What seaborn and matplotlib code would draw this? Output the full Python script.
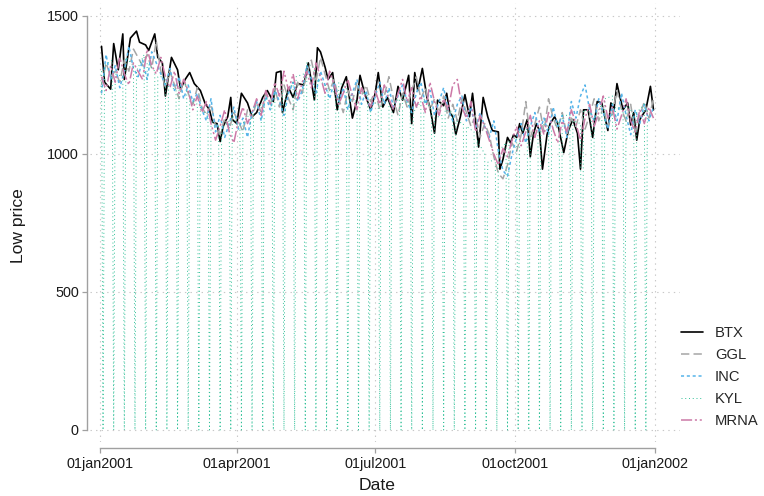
import numpy as np
import pandas as pd
import seaborn as sns
import matplotlib.pyplot as plt
import matplotlib.dates as mdates
from matplotlib.ticker import FixedLocator, FixedFormatter

# ── Data ──────────────────────────────────────────────────────
start = pd.Timestamp("2001-01-01")

# BTX: day offsets from 01jan2001 and low prices
btx_day = [1, 3, 7, 9, 12, 15, 16, 20, 24, 26,
           30, 32, 36, 38, 41, 43, 45, 47, 51, 53,
           56, 59, 62, 66, 69, 72, 74, 77, 79, 81,
           84, 86, 87, 90, 93, 97, 100, 103, 107, 110,
           114, 116, 119, 120, 124, 127, 130, 134, 137, 141,
           143, 145, 148, 150, 153, 156, 159, 162, 166, 169,
           171, 174, 178, 181, 183, 186, 189, 193, 196, 199,
           203, 205, 207, 209, 212, 215, 217, 220, 222, 226,
           228, 230, 232, 234, 237, 240, 243, 245, 249, 252,
           255, 258, 262, 263, 265, 268, 270, 272, 274, 276,
           278, 281, 283, 285, 287, 289, 291, 294, 296, 299,
           301, 305, 308, 311, 314, 316, 318, 321, 324, 327,
           330, 334, 336, 338, 340, 342, 344, 347, 349, 351,
           353, 355, 359, 362, 364]
btx = [1390, 1260, 1235, 1400, 1305, 1435, 1270, 1420, 1445, 1405,
       1395, 1375, 1435, 1350, 1330, 1210, 1280, 1350, 1305, 1235,
       1270, 1295, 1255, 1230, 1185, 1160, 1115, 1110, 1045, 1100,
       1135, 1205, 1125, 1110, 1220, 1185, 1135, 1150, 1205, 1230,
       1190, 1295, 1300, 1150, 1240, 1205, 1255, 1250, 1330, 1195,
       1385, 1370, 1315, 1270, 1295, 1160, 1240, 1280, 1130, 1195,
       1285, 1220, 1160, 1220, 1295, 1170, 1205, 1150, 1245, 1195,
       1285, 1110, 1295, 1230, 1310, 1205, 1170, 1075, 1195, 1175,
       1220, 1150, 1135, 1070, 1135, 1215, 1135, 1220, 1025, 1205,
       1135, 1085, 1080, 945, 980, 1060, 1040, 1070, 1060, 1110,
       1075, 1125, 990, 1070, 1110, 1085, 945, 1070, 1110, 1135,
       1110, 1005, 1085, 1125, 1075, 945, 1160, 1160, 1060, 1190,
       1185, 1085, 1185, 1160, 1255, 1205, 1160, 1185, 1105, 1150,
       1050, 1125, 1160, 1245, 1160]

# GGL / INC / MRNA: every third day from 02jan2001
ggl = [1250, 1330, 1280, 1300, 1260, 1340, 1300, 1380, 1350, 1320,
       1360, 1310, 1410, 1300, 1240, 1300, 1250, 1200, 1270, 1220,
       1180, 1240, 1170, 1140, 1180, 1100, 1070, 1130, 1090, 1150,
       1120, 1080, 1160, 1130, 1190, 1150, 1220, 1180, 1240, 1170,
       1250, 1200, 1160, 1260, 1220, 1290, 1340, 1260, 1350, 1290,
       1230, 1270, 1200, 1150, 1230, 1190, 1260, 1210, 1250, 1190,
       1230, 1160, 1210, 1280, 1200, 1140, 1220, 1170, 1230, 1280,
       1200, 1240, 1160, 1200, 1150, 1210, 1130, 1180, 1120, 1200,
       1150, 1100, 1140, 1060, 1110, 1070, 990, 930, 910, 960,
       1040, 1010, 1070, 1190, 1060, 1110, 1170, 1080, 1200, 1130,
       1090, 1150, 1070, 1130, 1100, 1160, 1090, 1140, 1200, 1120,
       1170, 1100, 1150, 1230, 1160, 1120, 1180, 1080, 1140, 1190,
       1130, 1200]
inc = [1220, 1360, 1270, 1320, 1240, 1300, 1390, 1310, 1280, 1340,
       1270, 1370, 1330, 1290, 1250, 1310, 1230, 1280, 1200, 1250,
       1190, 1220, 1160, 1120, 1200, 1080, 1140, 1060, 1110, 1170,
       1090, 1130, 1060, 1150, 1190, 1120, 1210, 1160, 1230, 1190,
       1140, 1220, 1260, 1190, 1230, 1320, 1270, 1220, 1300, 1250,
       1200, 1260, 1190, 1240, 1160, 1220, 1270, 1180, 1230, 1150,
       1210, 1260, 1180, 1240, 1170, 1210, 1250, 1190, 1150, 1220,
       1260, 1180, 1230, 1140, 1190, 1240, 1160, 1120, 1180, 1210,
       1120, 1170, 1090, 1150, 1100, 1060, 1120, 1010, 940, 920,
       1000, 1060, 1110, 1040, 1100, 1150, 1080, 1130, 1070, 1170,
       1100, 1140, 1060, 1190, 1130, 1210, 1250, 1160, 1120, 1200,
       1150, 1090, 1180, 1120, 1220, 1140, 1070, 1160, 1110, 1180,
       1120, 1170]
mrna = [1280, 1230, 1320, 1260, 1350, 1290, 1250, 1330, 1300, 1270,
        1380, 1320, 1290, 1350, 1280, 1240, 1300, 1220, 1270, 1230,
        1160, 1210, 1150, 1190, 1110, 1050, 1100, 1160, 1080, 1040,
        1120, 1170, 1110, 1150, 1200, 1140, 1230, 1180, 1260, 1210,
        1300, 1230, 1290, 1200, 1260, 1300, 1240, 1330, 1280, 1220,
        1300, 1250, 1180, 1220, 1270, 1210, 1160, 1240, 1200, 1170,
        1230, 1180, 1250, 1200, 1160, 1220, 1270, 1190, 1240, 1170,
        1210, 1150, 1260, 1190, 1140, 1200, 1160, 1250, 1270, 1170,
        1130, 1190, 1080, 1140, 1100, 1050, 1000, 960, 1020, 990,
        1050, 1100, 1030, 1080, 1140, 1060, 1120, 1070, 1150, 1090,
        1040, 1120, 1080, 1160, 1110, 1050, 1130, 1180, 1100, 1150,
        1210, 1130, 1170, 1090, 1140, 1200, 1120, 1080, 1160, 1110,
        1170, 1130]

# KYL: Tuesday and Thursday values; it falls to 0 every Wednesday
kyl_tue = [1300, 1340, 1280, 1320, 1360, 1300, 1280, 1230, 1250, 1180,
           1140, 1100, 1120, 1090, 1150, 1180, 1200, 1230, 1260, 1290,
           1310, 1250, 1220, 1240, 1190, 1210, 1180, 1230, 1200, 1170,
           1190, 1160, 1140, 1150, 1110, 1080, 1000, 980, 1040, 1060,
           1090, 1080, 1100, 1120, 1140, 1110, 1150, 1180, 1210, 1160,
           1140, 1180]
kyl_thu = [1320, 1290, 1350, 1300, 1330, 1280, 1250, 1260, 1200, 1170,
           1120, 1090, 1140, 1110, 1170, 1200, 1230, 1210, 1280, 1330,
           1270, 1240, 1260, 1200, 1230, 1190, 1220, 1180, 1210, 1150,
           1200, 1130, 1160, 1120, 1100, 1050, 970, 1010, 1050, 1080,
           1060, 1110, 1090, 1140, 1120, 1160, 1130, 1200, 1170, 1190,
           1150, 1160]

tick_dates = ["2001-01-01", "2001-04-01", "2001-07-01", "2001-10-01", "2002-01-01"]
y_ticks = [0, 500, 1000, 1500]

# ── Build series ──────────────────────────────────────────────
grid3 = pd.date_range("2001-01-02", periods=len(ggl), freq="3D")
btx_dates = start + pd.to_timedelta(btx_day, unit="D")
wed = pd.date_range("2001-01-03", periods=len(kyl_tue), freq="7D")
kyl_dates = pd.DatetimeIndex(np.column_stack([
    (wed - pd.Timedelta(days=1)).values, wed.values,
    (wed + pd.Timedelta(days=1)).values]).ravel())
kyl_vals = np.column_stack([kyl_tue, np.zeros(len(kyl_tue)), kyl_thu]).ravel()

series = [
    ("BTX", btx_dates, btx, "black", 1.2, "-"),
    ("GGL", grid3, ggl, "#a6a6a6", 1.1, (0, (6, 3))),
    ("INC", grid3, inc, "#56B4E9", 1.1, (0, (2.2, 2))),
    ("KYL", kyl_dates, kyl_vals, "#30c097", 0.7, (0, (0.7, 2.0))),
    ("MRNA", grid3, mrna, "#CC79A7", 1.1, (0, (8, 2, 1.5, 2, 1.5, 2))),
]

# ── Plot ──────────────────────────────────────────────────────
sns.set_theme(style="white")
plt.rcParams["font.family"] = ["Liberation Sans", "DejaVu Sans"]
plt.rcParams["lines.scale_dashes"] = False

fig = plt.figure(figsize=(7.64, 4.96), dpi=100)
W, H = 764, 496
ax = fig.add_axes([90 / W, 1 - 442 / H, 590 / W, 439 / H])

for name, d, v, col, lw, ls in series:
    sns.lineplot(x=d, y=v, ax=ax, color=col, linewidth=lw,
                 linestyle=ls, label=name, errorbar=None, sort=False)

if ax.get_legend() is not None:
    ax.get_legend().remove()

ax.set_xlim(start - pd.Timedelta(days=6.58), start + pd.Timedelta(days=381.45))
ax.set_ylim(-43.5, 1547)

xt = pd.to_datetime(tick_dates)
xt_num = [mdates.date2num(t) for t in xt]
ax.xaxis.set_major_locator(FixedLocator(xt_num))
ax.xaxis.set_major_formatter(FixedFormatter([t.strftime("%d%b%Y").lower() for t in xt]))
ax.set_yticks(y_ticks)
ax.set_yticklabels([str(t) for t in y_ticks])

ax.grid(True, linestyle=(0, (1, 3)), color="#c8c8c8", linewidth=0.8)
for s in ["top", "right"]:
    ax.spines[s].set_visible(False)
ax.spines["left"].set_position(("outward", 2.5))
ax.spines["bottom"].set_position(("outward", 4))
ax.spines["left"].set_bounds(0, 1500)
ax.spines["bottom"].set_bounds(xt_num[0], xt_num[-1])
for s in ["left", "bottom"]:
    ax.spines[s].set_color("#a0a0a0")
    ax.spines[s].set_linewidth(1.0)

ax.tick_params(axis="both", which="major", direction="out", length=3.6,
               width=0.9, color="#a0a0a0", labelcolor="#1a1a1a",
               labelsize=10.4, left=True, bottom=True)
ax.tick_params(axis="y", pad=2)
ax.tick_params(axis="x", pad=3)

ax.set_xlabel("Date", fontsize=12.6, color="#1a1a1a")
ax.set_ylabel("Low price", fontsize=12.6, color="#1a1a1a")
ax.xaxis.set_label_coords((377.5 - 90) / 590, (442 - 478) / 439)
ax.yaxis.set_label_coords((26 - 90) / 590, (442 - 226) / 439)

handles, labels = ax.get_legend_handles_labels()
leg = fig.legend(handles, labels, loc="upper left",
                 bbox_to_anchor=(681 / W, 1 - 326 / H), frameon=False,
                 fontsize=10.6, handlelength=1.5, handletextpad=0.8,
                 labelspacing=0.55, borderpad=0, borderaxespad=0)
for h in leg.legend_handles:
    h.set_alpha(1)

fig.savefig("out.png", dpi=100)
